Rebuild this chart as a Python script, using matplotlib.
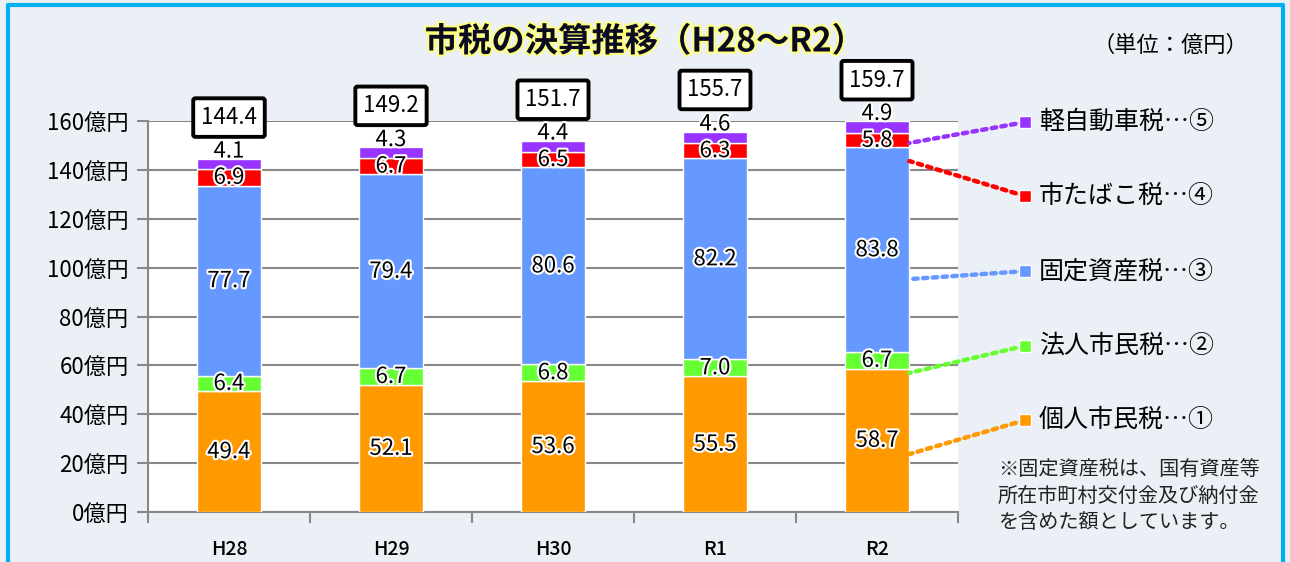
import matplotlib
matplotlib.use("Agg")
import matplotlib.pyplot as plt
import matplotlib.patheffects as pe
import numpy as np

plt.rcParams['font.family'] = ['Noto Sans CJK JP', 'DejaVu Sans']

years = ['H28', 'H29', 'H30', 'R1', 'R2']
kojin = [49.4, 52.1, 53.6, 55.5, 58.7]     # 個人市民税
hojin = [6.4, 6.7, 6.8, 7.0, 6.7]          # 法人市民税
kotei = [77.7, 79.4, 80.6, 82.2, 83.8]     # 固定資産税
tabako = [6.9, 6.7, 6.5, 6.3, 5.8]         # 市たばこ税
keijidosha = [4.1, 4.3, 4.4, 4.6, 4.9]     # 軽自動車税
totals = [144.4, 149.2, 151.7, 155.7, 159.7]

names = ['個人市民税…①', '法人市民税…②', '固定資産税…③', '市たばこ税…④', '軽自動車税…⑤']
colors = ['#FF9900', '#66FF33', '#6699FF', '#FF0000', '#9933FF']
series = [kojin, hojin, kotei, tabako, keijidosha]

fig = plt.figure(figsize=(12.9, 5.62), dpi=100)
fig.patch.set_facecolor('#EBF0F6')
ax = fig.add_axes([148/1290, 1-512/562, 810/1290, 391/562])
ax.set_facecolor('white')

x = np.arange(len(years))
bw = 0.40
halo = [pe.withStroke(linewidth=3, foreground='white')]
bottom = np.zeros(len(years))
for i, (vals, c) in enumerate(zip(series, colors)):
    vals = np.array(vals)
    ax.bar(x, vals, bw, bottom=bottom, color=c, edgecolor='white', linewidth=1, zorder=3)
    for j, v in enumerate(vals):
        if i == 4:
            ypos = bottom[j] + v + 3.2
        else:
            ypos = bottom[j] + v / 2
        ax.text(x[j], ypos, f'{v:.1f}', ha='center', va='center', fontsize=16,
                color='black', path_effects=halo, zorder=5)
    bottom += vals

for j, t in enumerate(totals):
    ax.text(x[j], t + 17, f'{t:.1f}', ha='center', va='center', fontsize=16, zorder=6,
            bbox=dict(boxstyle='round,pad=0.35,rounding_size=0.1', fc='white',
                      ec='black', lw=2.8), clip_on=False)

ax.set_xlim(-0.5, 4.5)
ax.set_ylim(0, 160)
ax.set_yticks(np.arange(0, 161, 20))
ax.set_yticklabels([f'{v}億円' for v in range(0, 161, 20)], fontsize=16)
ax.yaxis.grid(True, color='#888888', lw=1.5, zorder=0)
ax.set_xticks(x)
ax.set_xticklabels(years, fontsize=14, fontweight='medium')
ax.set_xticks(np.arange(-0.5, 4.6, 1), minor=True)
ax.tick_params(axis='x', which='major', length=0, pad=20)
ax.tick_params(axis='x', which='minor', length=8, color='#888888', width=1.5)
ax.tick_params(axis='y', length=8, color='#888888', width=1.5, pad=6)
for s in ['top', 'right']:
    ax.spines[s].set_visible(False)
for s in ['left', 'bottom']:
    ax.spines[s].set_color('#888888')
    ax.spines[s].set_linewidth(1.5)

# legend with leader lines from the R2 bar
leg_y = [0.235, 0.425, 0.616, 0.808, 0.997]
line_start = [23.7, 56.9, 95.3, 143.6, 151.0]
leg_x = (1025 - 148) / 810
for name, c, ly, ls in zip(names, colors, leg_y, line_start):
    ax.annotate('', xy=(x[-1] + bw / 2, ls), xycoords='data',
                xytext=(leg_x, ly), textcoords='axes fraction',
                arrowprops=dict(arrowstyle='-', ls=(0, (1, 1.2)), lw=3.2, color=c,
                                shrinkA=0, shrinkB=0), zorder=4, annotation_clip=False)
    ax.plot([leg_x], [ly], marker='s', ms=9, color=c, mec='white', mew=1,
            transform=ax.transAxes, clip_on=False, zorder=6)
    ax.text(leg_x + 0.017, ly, name, transform=ax.transAxes, fontsize=18,
            ha='left', va='center')

fig.text(998/1290, 1-496/562, '※固定資産税は、国有資産等\n所在市町村交付金及び納付金\nを含めた額としています。',
         fontsize=14.5, ha='left', va='center', linespacing=1.35, color='#222222')

fig.text(645/1290, 1-42/562, '市税の決算推移（H28～R2）', fontsize=24, fontweight='bold',
         ha='center', va='center', color='#0a0a20',
         path_effects=[pe.withStroke(linewidth=3, foreground='#FFFF80')])
fig.text(1170/1290, 1-45/562, '（単位：億円）', fontsize=16, ha='center', va='center')

# blue frame
fig.add_artist(plt.Line2D([8/1290, 8/1290, 1283/1290, 1283/1290],
                          [0, 1-5/562, 1-5/562, 0], color='#00B0F0', lw=3,
                          transform=fig.transFigure))

fig.savefig('out.png', dpi=100, facecolor=fig.get_facecolor())
